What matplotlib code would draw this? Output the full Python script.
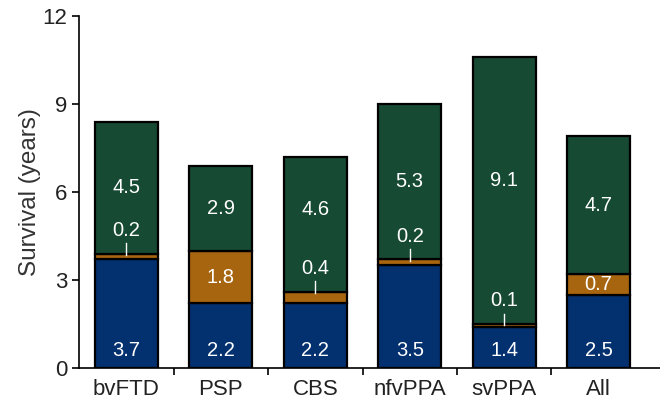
import matplotlib
matplotlib.use("Agg")
import matplotlib.pyplot as plt
import numpy as np

plt.rcParams['font.family'] = ['Liberation Sans', 'DejaVu Sans']

groups = ['bvFTD', 'PSP', 'CBS', 'nfvPPA', 'svPPA', 'All']
blue_vals = [3.7, 2.2, 2.2, 3.5, 1.4, 2.5]
orange_vals = [0.2, 1.8, 0.4, 0.2, 0.1, 0.7]
green_vals = [4.5, 2.9, 4.6, 5.3, 9.1, 4.7]

c_blue = '#03306e'
c_orange = '#a86510'
c_green = '#164a33'

fig = plt.figure(figsize=(6.6, 4.03), dpi=100)
ax = fig.add_axes([0.12, 0.087, 0.88, 0.873])

x = np.arange(len(groups))
blue = np.array(blue_vals)
orange = np.array(orange_vals)
green = np.array(green_vals)
w = 0.67
ax.bar(x, blue, w, color=c_blue, edgecolor='black', linewidth=1.6)
ax.bar(x, orange, w, bottom=blue, color=c_orange, edgecolor='black', linewidth=1.6)
ax.bar(x, green, w, bottom=blue + orange, color=c_green, edgecolor='black', linewidth=1.6)

fs = 14.5
for i in range(len(groups)):
    ax.text(x[i], 0.6, '%.1f' % blue[i], color='white', ha='center', va='center', fontsize=fs)
    top = blue[i] + orange[i]
    gy = top + green[i] / 2
    # a couple of labels sit a bit higher than the middle
    if groups[i] == 'CBS':
        gy += 0.5
    if groups[i] == 'svPPA':
        gy += 0.35
    ax.text(x[i], gy, '%.1f' % green[i], color='white', ha='center', va='center', fontsize=fs)
    if orange[i] >= 0.5:
        ax.text(x[i], blue[i] + orange[i] / 2, '%.1f' % orange[i], color='white',
                ha='center', va='center', fontsize=fs)
    else:
        ax.text(x[i], top + 0.8, '%.1f' % orange[i], color='white', ha='center', va='center', fontsize=fs)
        ax.plot([x[i], x[i]], [top - 0.05, top + 0.35], color='white', lw=1)

ax.set_xlim(-0.5, 5.65)
ax.set_ylim(0, 12)
ax.set_yticks([0, 3, 6, 9, 12])
ax.set_xticks(x)
ax.set_xticklabels(groups)
ax.set_xticks(x[:-1] + 0.5, minor=True)
ax.tick_params(axis='x', which='major', length=0, pad=8, labelsize=16, labelcolor='#222222')
ax.tick_params(axis='x', which='minor', length=5, width=1.2)
ax.tick_params(axis='y', length=5, width=1.2, labelsize=16, labelcolor='#222222')
ax.spines['top'].set_visible(False)
ax.spines['right'].set_visible(False)
ax.spines['left'].set_linewidth(1.2)
ax.spines['bottom'].set_linewidth(1.2)
ax.set_ylabel('Survival (years)', fontsize=17.5, color='#333333', labelpad=1)

fig.savefig('out.png', dpi=100)
